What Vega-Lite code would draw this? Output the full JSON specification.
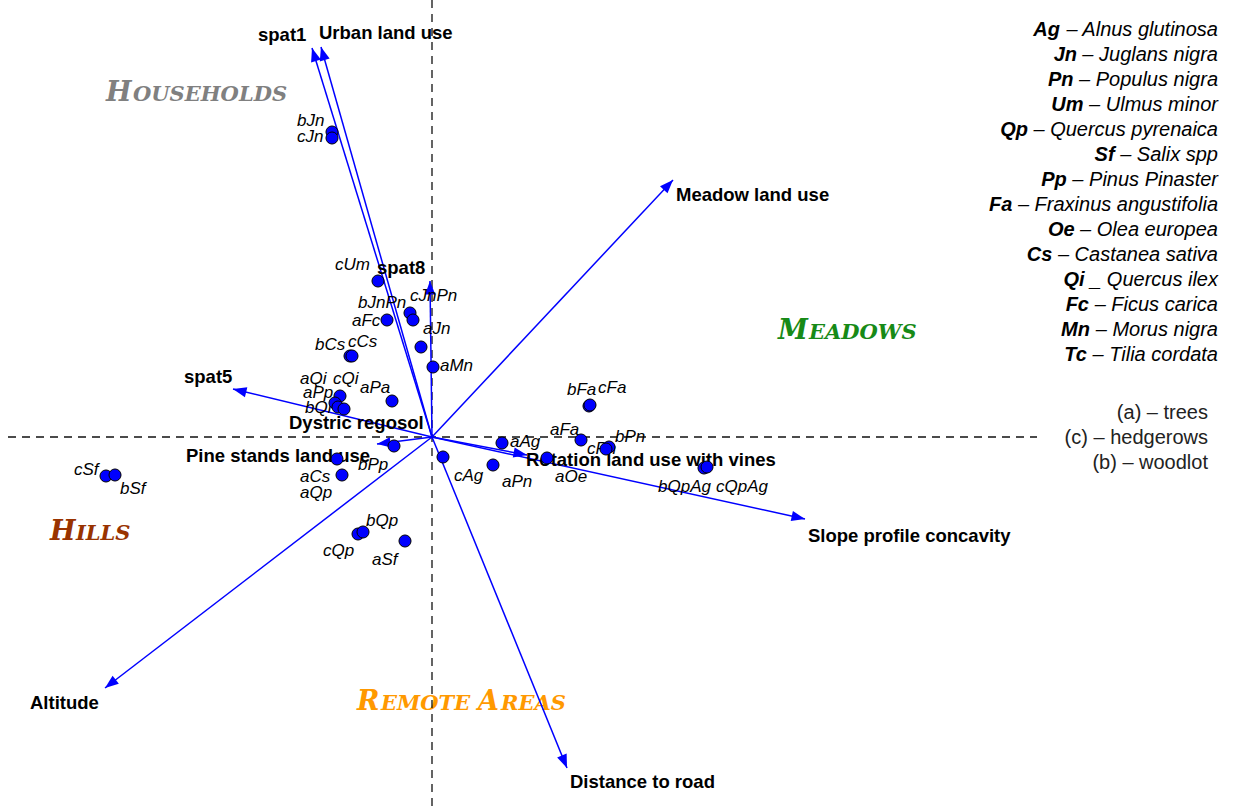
{
  "$schema": "https://vega.github.io/schema/vega-lite/v6.json",
  "width": 1233,
  "height": 809,
  "autosize": {"type": "none"},
  "padding": 0,
  "background": "white",
  "config": {"view": {"stroke": null}},
  "datasets": {
    "groupInit": [
      {"t": "H", "group": "Households", "x": -3.26, "y": 3.36},
      {"t": "M", "group": "Meadows", "x": 3.46, "y": 0.98},
      {"t": "H", "group": "Hills", "x": -3.82, "y": -1.03},
      {"t": "R", "group": "Remote", "x": -0.75, "y": -2.73},
      {"t": "A", "group": "Remote", "x": 0.46, "y": -2.73}
    ],
    "groupRest": [
      {"t": "OUSEHOLDS", "group": "Households", "x": -2.99, "y": 3.36},
      {"t": "EADOWS", "group": "Meadows", "x": 3.77, "y": 0.98},
      {"t": "ILLS", "group": "Hills", "x": -3.56, "y": -1.03},
      {"t": "EMOTE", "group": "Remote", "x": -0.51, "y": -2.73},
      {"t": "REAS", "group": "Remote", "x": 0.69, "y": -2.73}
    ],
    "guides": [
      {"x": 0, "y": 4.37, "x2": 0, "y2": -3.72},
      {"x": -4.24, "y": 0, "x2": 6.05, "y2": 0}
    ],
    "arrows": [
      {"name": "spat1", "x": -1.20, "y": 3.89},
      {"name": "Urban land use", "x": -1.11, "y": 3.90},
      {"name": "Meadow land use", "x": 2.41, "y": 2.57},
      {"name": "spat8", "x": -0.02, "y": 1.56},
      {"name": "spat5", "x": -1.99, "y": 0.48},
      {"name": "Pine stands land use", "x": -0.55, "y": -0.07},
      {"name": "Rotation land use with vines", "x": 0.95, "y": -0.18},
      {"name": "Slope profile concavity", "x": 3.73, "y": -0.82},
      {"name": "Altitude", "x": -3.27, "y": -2.51},
      {"name": "Distance to road", "x": 1.35, "y": -3.31}
    ],
    "arrowLabels": [
      {"name": "spat1", "x": -1.74, "y": 4.02},
      {"name": "Urban land use", "x": -1.13, "y": 4.04},
      {"name": "Meadow land use", "x": 2.44, "y": 2.42},
      {"name": "spat8", "x": -0.55, "y": 1.69},
      {"name": "spat5", "x": -2.48, "y": 0.60},
      {"name": "Dystric regosol", "x": -1.43, "y": 0.14},
      {"name": "Pine stands land use", "x": -2.46, "y": -0.19},
      {"name": "Rotation land use with vines", "x": 0.94, "y": -0.23},
      {"name": "Slope profile concavity", "x": 3.76, "y": -0.99},
      {"name": "Altitude", "x": -4.02, "y": -2.66},
      {"name": "Distance to road", "x": 1.38, "y": -3.45}
    ],
    "sites": [
      {"name": "bJn", "x": -1.00, "y": 3.05},
      {"name": "cJn", "x": -1.00, "y": 2.99},
      {"name": "cUm", "x": -0.54, "y": 1.56},
      {"name": "bJnPn", "x": -0.22, "y": 1.24},
      {"name": "cJnPn", "x": -0.19, "y": 1.17},
      {"name": "aFc", "x": -0.45, "y": 1.17},
      {"name": "aJn", "x": -0.11, "y": 0.90},
      {"name": "bCs", "x": -0.82, "y": 0.81},
      {"name": "cCs", "x": -0.80, "y": 0.81},
      {"name": "aMn", "x": 0.01, "y": 0.70},
      {"name": "cQi", "x": -0.92, "y": 0.41},
      {"name": "aQi", "x": -0.97, "y": 0.34},
      {"name": "aPp", "x": -0.94, "y": 0.30},
      {"name": "bQi", "x": -0.88, "y": 0.28},
      {"name": "aPa", "x": -0.40, "y": 0.36},
      {"name": "bPp", "x": -0.38, "y": -0.09},
      {"name": "aCs", "x": -0.95, "y": -0.22},
      {"name": "aQp", "x": -0.90, "y": -0.38},
      {"name": "cAg", "x": 0.11, "y": -0.20},
      {"name": "aAg", "x": 0.70, "y": -0.06},
      {"name": "aPn", "x": 0.61, "y": -0.28},
      {"name": "aOe", "x": 1.15, "y": -0.21},
      {"name": "aFa", "x": 1.49, "y": -0.03},
      {"name": "bPn", "x": 1.77, "y": -0.10},
      {"name": "cPn", "x": 1.74, "y": -0.12},
      {"name": "bFa", "x": 1.57, "y": 0.31},
      {"name": "cFa", "x": 1.58, "y": 0.32},
      {"name": "bQpAg", "x": 2.72, "y": -0.31},
      {"name": "cQpAg", "x": 2.75, "y": -0.30},
      {"name": "cSf", "x": -3.26, "y": -0.39},
      {"name": "bSf", "x": -3.17, "y": -0.38},
      {"name": "cQp", "x": -0.74, "y": -0.97},
      {"name": "bQp", "x": -0.69, "y": -0.95},
      {"name": "aSf", "x": -0.27, "y": -1.04}
    ],
    "siteLabels": [
      {"name": "bJn", "x": -1.35, "y": 3.16},
      {"name": "cJn", "x": -1.35, "y": 3.00},
      {"name": "cUm", "x": -0.97, "y": 1.72},
      {"name": "bJnPn", "x": -0.74, "y": 1.34},
      {"name": "cJnPn", "x": -0.22, "y": 1.41},
      {"name": "aFc", "x": -0.80, "y": 1.16},
      {"name": "aJn", "x": -0.09, "y": 1.08},
      {"name": "bCs", "x": -1.17, "y": 0.92},
      {"name": "cCs", "x": -0.84, "y": 0.95},
      {"name": "aMn", "x": 0.08, "y": 0.71},
      {"name": "aQi", "x": -1.32, "y": 0.58},
      {"name": "cQi", "x": -0.99, "y": 0.58},
      {"name": "aPp", "x": -1.29, "y": 0.44},
      {"name": "bQi", "x": -1.27, "y": 0.29},
      {"name": "aPa", "x": -0.72, "y": 0.49},
      {"name": "bPp", "x": -0.74, "y": -0.28},
      {"name": "aCs", "x": -1.32, "y": -0.40},
      {"name": "aQp", "x": -1.32, "y": -0.56},
      {"name": "cAg", "x": 0.22, "y": -0.39},
      {"name": "aAg", "x": 0.78, "y": -0.05},
      {"name": "aPn", "x": 0.70, "y": -0.45},
      {"name": "aOe", "x": 1.23, "y": -0.40},
      {"name": "aFa", "x": 1.18, "y": 0.07},
      {"name": "cPn", "x": 1.55, "y": -0.12},
      {"name": "bPn", "x": 1.83, "y": 0.00},
      {"name": "bFa", "x": 1.35, "y": 0.47},
      {"name": "cFa", "x": 1.66, "y": 0.49},
      {"name": "bQpAg", "x": 2.26, "y": -0.50},
      {"name": "cQpAg", "x": 2.84, "y": -0.50},
      {"name": "cSf", "x": -3.58, "y": -0.33},
      {"name": "bSf", "x": -3.12, "y": -0.52},
      {"name": "bQp", "x": -0.66, "y": -0.84},
      {"name": "cQp", "x": -1.09, "y": -1.14},
      {"name": "aSf", "x": -0.60, "y": -1.23}
    ],
    "species": [
      {"code": "Ag", "name": "– Alnus glutinosa", "xc": 6.28, "x": 7.86, "y": 4.07},
      {"code": "Jn", "name": "– Juglans nigra", "xc": 6.45, "x": 7.86, "y": 3.82},
      {"code": "Pn", "name": "– Populus nigra", "xc": 6.415, "x": 7.86, "y": 3.57},
      {"code": "Um", "name": "– Ulmus minor", "xc": 6.515, "x": 7.86, "y": 3.32},
      {"code": "Qp", "name": "– Quercus pyrenaica", "xc": 5.96, "x": 7.86, "y": 3.07},
      {"code": "Sf", "name": "– Salix spp", "xc": 6.826, "x": 7.86, "y": 2.82},
      {"code": "Pp", "name": "– Pinus Pinaster", "xc": 6.348, "x": 7.86, "y": 2.57},
      {"code": "Fa", "name": "– Fraxinus angustifolia", "xc": 5.804, "x": 7.86, "y": 2.32},
      {"code": "Oe", "name": "– Olea europea", "xc": 6.426, "x": 7.86, "y": 2.07},
      {"code": "Cs", "name": "– Castanea sativa", "xc": 6.204, "x": 7.86, "y": 1.82},
      {"code": "Qi", "name": "_ Quercus ilex", "xc": 6.526, "x": 7.86, "y": 1.57},
      {"code": "Fc", "name": "– Ficus carica", "xc": 6.57, "x": 7.86, "y": 1.32},
      {"code": "Mn", "name": "– Morus nigra", "xc": 6.58, "x": 7.86, "y": 1.07},
      {"code": "Tc", "name": "– Tilia cordata", "xc": 6.548, "x": 7.86, "y": 0.82}
    ],
    "types": [
      {"t": "(a) – trees", "x": 7.76, "y": 0.24},
      {"t": "(c) – hedgerows", "x": 7.76, "y": -0.01},
      {"t": "(b) – woodlot", "x": 7.76, "y": -0.26}
    ]
  },
  "encoding": {
    "x": {"field": "x", "type": "quantitative", "scale": {"domain": [-4.32, 8.01], "nice": false, "zero": false}, "axis": null},
    "y": {"field": "y", "type": "quantitative", "scale": {"domain": [-3.72, 4.37], "nice": false, "zero": false}, "axis": null}
  },
  "layer": [
    {
      "data": {"name": "groupInit"},
      "mark": {"type": "text", "font": "DejaVu Serif", "fontStyle": "italic", "fontWeight": "bold", "fontSize": 27, "align": "left", "baseline": "alphabetic"},
      "encoding": {
        "text": {"field": "t"},
        "color": {"field": "group", "type": "nominal", "scale": {"domain": ["Households", "Meadows", "Hills", "Remote"], "range": ["#808080", "#178a17", "#993300", "#ff9900"]}, "legend": null}
      }
    },
    {
      "data": {"name": "groupRest"},
      "mark": {"type": "text", "font": "DejaVu Serif", "fontStyle": "italic", "fontWeight": "bold", "fontSize": 21, "align": "left", "baseline": "alphabetic"},
      "encoding": {
        "text": {"field": "t"},
        "color": {"field": "group", "type": "nominal", "legend": null}
      }
    },
    {
      "data": {"name": "guides"},
      "mark": {"type": "rule", "color": "#111111", "strokeWidth": 1.3, "strokeDash": [8, 6]},
      "encoding": {"x2": {"field": "x2"}, "y2": {"field": "y2"}}
    },
    {
      "data": {"name": "arrows"},
      "mark": {"type": "rule", "color": "#0000ff", "strokeWidth": 1.5},
      "encoding": {"x2": {"datum": 0}, "y2": {"datum": 0}}
    },
    {
      "data": {"name": "arrows"},
      "transform": [{"calculate": "(atan2(datum.x, datum.y) * 180 / PI + 360) % 360", "as": "ang"}],
      "mark": {"type": "point", "shape": "M0,0L-0.38,1L0.38,1Z", "filled": true, "color": "#0000ff", "size": 730, "opacity": 1},
      "encoding": {"angle": {"field": "ang", "type": "quantitative", "scale": null}}
    },
    {
      "data": {"name": "arrowLabels"},
      "mark": {"type": "text", "font": "Liberation Sans", "fontWeight": "bold", "fontSize": 18.5, "align": "left", "baseline": "middle", "color": "black"},
      "encoding": {"text": {"field": "name"}}
    },
    {
      "data": {"name": "siteLabels"},
      "mark": {"type": "text", "font": "Liberation Sans", "fontStyle": "italic", "fontSize": 17, "align": "left", "baseline": "middle", "color": "black"},
      "encoding": {"text": {"field": "name"}}
    },
    {
      "data": {"name": "sites"},
      "mark": {"type": "point", "shape": "circle", "filled": true, "fill": "#0000ff", "stroke": "black", "strokeWidth": 1, "size": 145, "opacity": 1},
      "encoding": {}
    },
    {
      "data": {"name": "species"},
      "mark": {"type": "text", "font": "Liberation Sans", "fontStyle": "italic", "fontWeight": "bold", "fontSize": 20, "align": "right", "baseline": "middle", "color": "black"},
      "encoding": {"x": {"field": "xc", "type": "quantitative"}, "text": {"field": "code"}}
    },
    {
      "data": {"name": "species"},
      "mark": {"type": "text", "font": "Liberation Sans", "fontStyle": "italic", "fontSize": 20, "align": "right", "baseline": "middle", "color": "black"},
      "encoding": {"text": {"field": "name"}}
    },
    {
      "data": {"name": "types"},
      "mark": {"type": "text", "font": "Liberation Sans", "fontSize": 20, "align": "right", "baseline": "middle", "color": "#222222"},
      "encoding": {"text": {"field": "t"}}
    }
  ]
}
